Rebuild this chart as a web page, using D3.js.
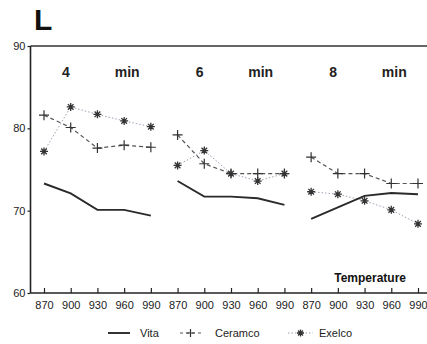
<!DOCTYPE html>
<html>
<head>
<meta charset="utf-8">
<script src="https://cdn.jsdelivr.net/npm/d3@7"></script>
<style>
html,body{margin:0;padding:0;background:#fff;}
svg{display:block;font-family:"Liberation Sans",Arial,sans-serif;}
</style>
</head>
<body>
<svg id="chart" width="427" height="344"></svg>
<script>
const groups = [4, 6, 8];
const temperatures = [870, 900, 930, 960, 990];
const yTicks = [60, 70, 80, 90];
const vita = [
  [73.3, 72.1, 70.1, 70.1, 69.4],
  [73.6, 71.7, 71.7, 71.5, 70.7],
  [69.0, 70.4, 71.8, 72.15, 72.0]
];
const ceramco = [
  [81.6, 80.1, 77.6, 77.95, 77.7],
  [79.2, 75.7, 74.5, 74.5, 74.5],
  [76.5, 74.5, 74.5, 73.3, 73.3]
];
const exelco = [
  [77.2, 82.6, 81.7, 80.9, 80.2],
  [75.5, 77.3, 74.5, 73.6, 74.5],
  [72.3, 72.0, 71.2, 70.1, 68.4]
];

const svg = d3.select("#chart");
const keys = [];
groups.forEach(g => temperatures.forEach(t => keys.push(g + "-" + t)));
const x = d3.scalePoint().domain(keys).range([44, 418]);
const y = d3.scaleLinear().domain([60, 90]).range([293, 46]);
const x0 = 30.5;

// Frame lines
svg.append("line").attr("x1", x0).attr("x2", 427).attr("y1", y(90)).attr("y2", y(90))
  .attr("stroke", "#333").attr("stroke-width", 1.6);
svg.append("line").attr("x1", x0).attr("x2", x0).attr("y1", y(90)).attr("y2", y(60))
  .attr("stroke", "#222").attr("stroke-width", 1.6);
svg.append("line").attr("x1", x0).attr("x2", 427).attr("y1", y(60)).attr("y2", y(60))
  .attr("stroke", "#222").attr("stroke-width", 1.6);

// Y axis
const yAxis = svg.append("g").attr("transform", `translate(${x0},0)`)
  .call(d3.axisLeft(y).tickValues(yTicks).tickSize(3).tickPadding(2));
yAxis.select(".domain").remove();
yAxis.selectAll("line").attr("stroke", "#222").attr("stroke-width", 1.2);
yAxis.selectAll("text").attr("font-size", 11).attr("fill", "#222")
  .attr("font-family", "Liberation Sans, Arial, sans-serif");

// X axis
const xAxis = svg.append("g").attr("transform", `translate(0,${y(60)})`)
  .call(d3.axisBottom(x).tickSize(-5).tickPadding(8).tickFormat(k => k.split("-")[1]));
xAxis.select(".domain").remove();
xAxis.selectAll("line").attr("stroke", "#222").attr("stroke-width", 1.2);
xAxis.selectAll("text").attr("font-size", 11).attr("fill", "#222")
  .attr("font-family", "Liberation Sans, Arial, sans-serif");

// "L" label
svg.append("text").attr("x", 34).attr("y", 30).attr("font-size", 30).attr("font-weight", "bold")
  .attr("fill", "#111").text("L");

// Group titles
groups.forEach((g, i) => {
  const first = x(g + "-" + temperatures[0]);
  const mid = x(g + "-" + temperatures[3]);
  svg.append("text").attr("x", first + 22).attr("y", 77).attr("text-anchor", "middle")
    .attr("font-size", 14).attr("font-weight", "bold").attr("fill", "#222").text(String(g));
  svg.append("text").attr("x", mid + 3).attr("y", 77).attr("text-anchor", "middle")
    .attr("font-size", 14).attr("font-weight", "bold").attr("fill", "#222").text("min");
});

svg.append("text").attr("x", 406).attr("y", 282).attr("text-anchor", "end")
  .attr("font-size", 12).attr("font-weight", "bold").attr("fill", "#111").text("Temperature");

const line = d3.line().x(d => x(d.k)).y(d => y(d.v));
function pts(series, gi) {
  return temperatures.map((t, j) => ({ k: groups[gi] + "-" + t, v: series[gi][j] }));
}
function plus(g, cx, cy, r) {
  g.append("path").attr("d", `M${cx - r},${cy}H${cx + r}M${cx},${cy - r}V${cy + r}`)
    .attr("stroke", "#333").attr("stroke-width", 1.2).attr("fill", "none");
}
function star(g, cx, cy, r) {
  const d = [];
  for (let a = 0; a < 4; a++) {
    const ang = a * Math.PI / 4;
    const dx = r * Math.cos(ang), dy = r * Math.sin(ang);
    d.push(`M${cx - dx},${cy - dy}L${cx + dx},${cy + dy}`);
  }
  g.append("path").attr("d", d.join("")).attr("stroke", "#333").attr("stroke-width", 1.3).attr("fill", "none");
}

groups.forEach((g, gi) => {
  // Exelco dotted
  svg.append("path").datum(pts(exelco, gi)).attr("d", line).attr("fill", "none")
    .attr("stroke", "#8d96a8").attr("stroke-width", 0.9).attr("stroke-dasharray", "1.5,2");
  // Ceramco dashed
  svg.append("path").datum(pts(ceramco, gi)).attr("d", line).attr("fill", "none")
    .attr("stroke", "#555").attr("stroke-width", 1.2).attr("stroke-dasharray", "4,3");
  // Vita solid
  svg.append("path").datum(pts(vita, gi)).attr("d", line).attr("fill", "none")
    .attr("stroke", "#2a2a2a").attr("stroke-width", 1.9);
  const mg = svg.append("g");
  pts(ceramco, gi).forEach(d => plus(mg, x(d.k), y(d.v), 5));
  pts(exelco, gi).forEach(d => star(mg, x(d.k), y(d.v), 4));
});

// Legend
const leg = svg.append("g");
leg.append("line").attr("x1", 108).attr("x2", 130).attr("y1", 333).attr("y2", 333)
  .attr("stroke", "#2a2a2a").attr("stroke-width", 1.9);
leg.append("text").attr("x", 140).attr("y", 337).attr("font-size", 11).attr("fill", "#222").text("Vita");
leg.append("line").attr("x1", 180).attr("x2", 201).attr("y1", 333).attr("y2", 333)
  .attr("stroke", "#555").attr("stroke-width", 1.1).attr("stroke-dasharray", "3,3");
plus(leg, 190.5, 333, 4);
leg.append("text").attr("x", 215).attr("y", 337).attr("font-size", 11).attr("fill", "#222").text("Ceramco");
leg.append("line").attr("x1", 288).attr("x2", 313).attr("y1", 333).attr("y2", 333)
  .attr("stroke", "#8d96a8").attr("stroke-width", 0.9).attr("stroke-dasharray", "1.5,2");
star(leg, 300.5, 333, 3.5);
leg.append("text").attr("x", 319).attr("y", 337).attr("font-size", 11).attr("fill", "#222").text("Exelco");
</script>
</body>
</html>
